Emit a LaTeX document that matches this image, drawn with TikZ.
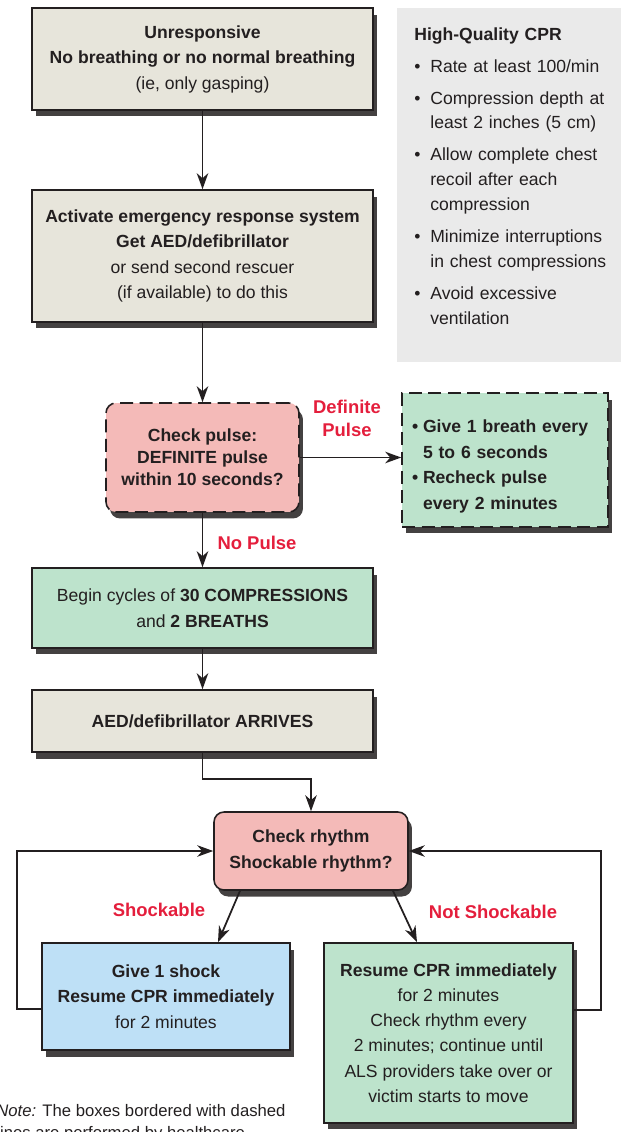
\documentclass[tikz,border=0pt]{standalone}
\usepackage{fontspec}
\setmainfont{Liberation Sans}
\usetikzlibrary{arrows.meta,shadows}

\definecolor{ink}{RGB}{35,31,32}
\definecolor{boxgray}{RGB}{231,229,219}
\definecolor{boxpink}{RGB}{244,186,184}
\definecolor{boxgreen}{RGB}{189,227,204}
\definecolor{boxblue}{RGB}{190,224,246}
\definecolor{panelgray}{RGB}{234,234,234}
\definecolor{labelred}{RGB}{228,30,60}

\newcommand{\hangbullet}[2]{\par\hangindent=#1\noindent\makebox[#1][l]{\textbullet}#2}

\tikzset{
  flowbox/.style={draw=ink, line width=0.9pt, inner sep=0pt, align=center, text=ink,
    font=\fontsize{10}{14.5}\selectfont,
    drop shadow={shadow xshift=0.08cm, shadow yshift=-0.13cm, fill=ink!85, opacity=1}},
  graybox/.style={flowbox, fill=boxgray},
  greenbox/.style={flowbox, fill=boxgreen},
  bluebox/.style={flowbox, fill=boxblue},
  pinkbox/.style={flowbox, fill=boxpink, rounded corners=0.2cm},
  dashbox/.style={dash pattern=on 0.26cm off 0.13cm},
  redlabel/.style={text=labelred, inner sep=0pt, align=center,
    font=\fontsize{10.5}{13}\selectfont\bfseries},
  conn/.style={draw=ink, line width=1pt},
  >={Stealth[length=0.32cm,width=0.23cm,inset=0.1cm]}
}

\begin{document}
\begin{tikzpicture}[x=0.02cm, y=-0.02cm]
\useasboundingbox (0,0) rectangle (621,1132);

% side panel
\fill[panelgray] (397,8) rectangle (621,362);
\node[anchor=north west, text width=4.1cm, align=left, inner sep=0pt, text=ink,
  font=\fontsize{10}{14.2}\selectfont] (cprlist) at (414,27)
  {\textbf{High-Quality CPR}\par\vspace{4pt}
   \hangbullet{0.32cm}{Rate at least 100/min}\par\vspace{4pt}
   \hangbullet{0.32cm}{Compression depth at\newline least 2 inches (5 cm)}\par\vspace{4pt}
   \hangbullet{0.32cm}{Allow complete chest\newline recoil after each\newline compression}\par\vspace{4pt}
   \hangbullet{0.32cm}{Minimize interruptions\newline in chest compressions}\par\vspace{4pt}
   \hangbullet{0.32cm}{Avoid excessive\newline ventilation}\par};

% main column
\node[graybox, minimum width=6.82cm, minimum height=2.04cm] (unresp) at (202.5,59)
  {\textbf{Unresponsive}\\\textbf{No breathing or no normal breathing}\\(ie, only gasping)};
\node[graybox, minimum width=6.82cm, minimum height=2.64cm] (activate) at (202.5,256)
  {\textbf{Activate emergency response system}\\\textbf{Get AED/defibrillator}\\or send second rescuer\\(if available) to do this};
\node[pinkbox, dashbox, minimum width=3.86cm, minimum height=2.18cm,
  font=\fontsize{10}{12.5}\selectfont\bfseries] (pulse) at (202.5,457.5)
  {Check pulse:\\DEFINITE pulse\\within 10 seconds?};
\node[greenbox, dashbox, minimum width=4.12cm, minimum height=2.68cm, text width=3.72cm,
  inner xsep=0.2cm, align=left, font=\fontsize{10}{14.6}\selectfont\bfseries] (breath) at (505,460)
  {\hangbullet{0.22cm}{Give 1 breath every\newline 5 to 6 seconds}
   \hangbullet{0.22cm}{Recheck pulse\newline every 2 minutes}\par};
\node[greenbox, minimum width=6.82cm, minimum height=1.6cm] (cycles) at (202.5,608)
  {Begin cycles of \textbf{30 COMPRESSIONS}\\and \textbf{2 BREATHS}};
\node[graybox, minimum width=6.82cm, minimum height=1.24cm] (aed) at (202.5,721)
  {\textbf{AED/defibrillator ARRIVES}};
\node[pinkbox, minimum width=3.88cm, minimum height=1.56cm,
  font=\fontsize{10}{14.5}\selectfont\bfseries] (rhythm) at (311,851)
  {Check rhythm\\Shockable rhythm?};
\node[bluebox, minimum width=4.96cm, minimum height=2.14cm] (shock) at (166,996.5)
  {\textbf{Give 1 shock}\\\textbf{Resume CPR immediately}\\for 2 minutes};
\node[greenbox, minimum width=4.98cm, minimum height=3.6cm,
  font=\fontsize{10}{14.4}\selectfont] (resume) at (448.5,1033)
  {\textbf{Resume CPR immediately}\\for 2 minutes\\Check rhythm every\\2 minutes; continue until\\ALS providers take over or\\victim starts to move};

% labels
\node[redlabel] (lbldefinite) at (347,418) {Definite\\Pulse};
\node[redlabel] (lblnopulse) at (257,543) {No Pulse};
\node[redlabel] (lblshock) at (159,910) {Shockable};
\node[redlabel] (lblnoshock) at (493,912) {Not Shockable};

\node[anchor=west, align=left, inner sep=0pt, text=ink,
  font=\fontsize{9.5}{12.5}\selectfont] (note) at (-4,1123)
  {\textit{Note:} The boxes bordered with dashed\\lines are performed by healthcare};

% connectors
\draw[conn,->] (unresp) -- (activate);
\draw[conn,->] (activate) -- (pulse);
\draw[conn,->] (pulse.east) -- (pulse.east -| breath.west);
\draw[conn,->] (pulse) -- (cycles);
\draw[conn,->] (cycles) -- (aed);
\draw[conn,->] (aed.south) -- ++(0,26) -| (rhythm.north);
\draw[conn,->] ([xshift=-1.42cm]rhythm.south) -- ([xshift=1.04cm]shock.north);
\draw[conn,->] ([xshift=1.64cm]rhythm.south) -- ([xshift=-0.63cm]resume.north);
\draw[conn,->] ([yshift=-0.25cm]shock.west) -- ++(-24,0) |- (rhythm.west);
\draw[conn,->] ([yshift=0.46cm]resume.east) -- ++(27,0) |- (rhythm.east);
\end{tikzpicture}
\end{document}
